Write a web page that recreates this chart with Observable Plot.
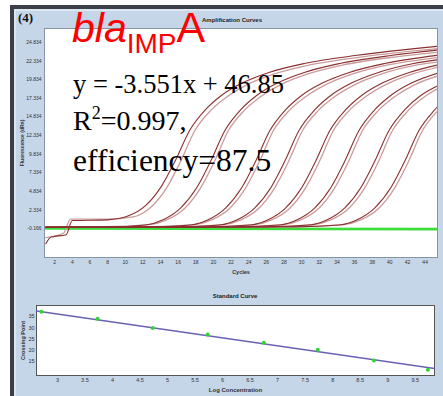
<!DOCTYPE html>
<html><head><meta charset="utf-8">
<script src="https://cdn.jsdelivr.net/npm/d3@7"></script>
<script src="https://cdn.jsdelivr.net/npm/@observablehq/plot@0.6"></script>
<style>
body{margin:0;background:#fff;}
#wrap{position:relative;width:443px;height:396px;overflow:hidden;background:#fff;font-family:"Liberation Sans",Arial,sans-serif;}
.abs{position:absolute;}
</style></head><body>
<div id="wrap">
 <div class="abs" style="left:10px;top:5px;width:433px;height:391px;background:#3b3f48"></div>
 <div class="abs" style="left:14px;top:9px;width:429px;height:387px;background:#dde6ef"></div>
 <div class="abs" style="left:16px;top:11px;width:427px;height:385px;background:#c5d6e8"></div>
 <div id="top" class="abs" style="left:0;top:0"></div>
 <div id="bot" class="abs" style="left:0;top:280px"></div>
 <svg class="abs" style="left:0;top:0" width="443" height="396">
  <text x="18" y="22" font-family="Liberation Serif, Times New Roman, serif" font-weight="bold" font-size="13" fill="#111">(4)</text>
  <text x="232" y="22" text-anchor="middle" font-family="Liberation Sans, Arial, sans-serif" font-weight="bold" font-size="6" fill="#222">Amplification Curves</text>
  <text x="235" y="298" text-anchor="middle" font-family="Liberation Sans, Arial, sans-serif" font-weight="bold" font-size="6" fill="#222">Standard Curve</text>
  <text x="72" y="42" font-family="Liberation Sans, Arial, sans-serif" fill="#ff0000"><tspan font-style="italic" font-size="41">bla</tspan><tspan font-size="28" dy="11">IMP</tspan><tspan font-size="43" dy="-11">A</tspan></text>
  <g font-family="Liberation Serif, Times New Roman, serif" fill="#000">
   <text x="73" y="93" font-size="26.5">y = -3.551x + 46.85</text>
   <text x="73" y="130" font-size="28">R<tspan font-size="18" dy="-11">2</tspan><tspan dy="11">=0.997,</tspan></text>
   <text x="73" y="171" font-size="31.5">efficiency=87.5</text>
  </g>
 </svg>
</div>
<script>
// ---- Amplification curves: [cycle, fluorescence] ----
const cycleTicks = d3.range(2, 46, 2);
const fluorTicks = [-0.166, 2.334, 4.834, 7.334, 9.834, 12.334, 14.834, 17.334, 19.834, 22.334, 24.834];

const g1a = [[1,-2.2],[1.6,-1.3],[3.3,-1.0],[4.0,0.9],[8,1.0],[10.3,1.5],[12.3,2.9],[14.1,5.5],[15.7,9.0],[17.3,13.0],[19.1,15.8],[20.9,17.7],[23.3,19.4],[26.3,20.8],[30.3,22.0],[36.3,23.1],[45.4,24.3]];
const g1b = [[1,-1.4],[3.0,-0.8],[3.8,1.1],[8,1.1],[10.9,1.4],[12.9,2.7],[14.7,5.3],[16.3,8.9],[17.9,13.0],[19.7,15.7],[21.5,17.5],[23.9,19.2],[26.9,20.6],[30.9,21.8],[36.9,22.9],[45.4,24.0]];
const g2a = [[1,0],[7.3,0.0],[12.3,0.3],[14.3,1.0],[16.3,2.6],[18.1,5.3],[19.7,8.9],[21.3,13.0],[23.1,15.8],[24.9,17.7],[27.3,19.4],[30.3,20.8],[34.3,22.0],[40.3,23.1],[45.4,23.8]];
const g2b = [[1,0.1],[7.7,0.1],[12.7,0.35],[14.7,1.0],[16.7,2.5],[18.5,5.2],[20.1,8.8],[21.7,13.0],[23.5,15.7],[25.3,17.5],[27.7,19.2],[30.7,20.6],[34.7,21.8],[40.7,22.9],[45.4,23.5]];
const g3a = [[1,0],[12.4,0.05],[17.4,0.3],[19.4,1.0],[21.4,2.6],[23.2,5.3],[24.8,8.9],[26.4,13.0],[28.2,15.8],[30.0,17.7],[32.4,19.4],[35.4,20.8],[39.4,22.0],[45.4,23.1]];
const g3b = [[1,0.1],[12.8,0.1],[17.8,0.35],[19.8,1.0],[21.8,2.5],[23.6,5.2],[25.2,8.8],[26.8,13.0],[28.6,15.7],[30.4,17.5],[32.8,19.2],[35.8,20.6],[39.8,21.8],[45.4,22.8]];
const g4a = [[1,0],[15.7,0.05],[20.7,0.3],[22.7,1.0],[24.7,2.6],[26.5,5.3],[28.1,8.9],[29.7,13.0],[31.5,15.8],[33.3,17.7],[35.7,19.4],[38.7,20.8],[42.7,22.0],[45.4,22.5]];
const g4b = [[1,0.1],[16.1,0.1],[21.1,0.35],[23.1,1.0],[25.1,2.5],[26.9,5.2],[28.5,8.8],[30.1,13.0],[31.9,15.7],[33.7,17.5],[36.1,19.2],[39.1,20.6],[43.1,21.8],[45.4,22.2]];
const g5a = [[1,0],[19.2,0.05],[24.2,0.3],[26.2,1.0],[28.2,2.6],[30.0,5.3],[31.6,8.9],[33.2,13.0],[35.0,15.8],[36.8,17.7],[39.2,19.4],[42.2,20.8],[45.4,21.8]];
const g5b = [[1,0.1],[19.6,0.1],[24.6,0.35],[26.6,1.0],[28.6,2.5],[30.4,5.2],[32.0,8.8],[33.6,13.0],[35.4,15.7],[37.2,17.5],[39.6,19.2],[42.6,20.6],[45.4,21.5]];
const g6a = [[1,0],[22.5,0.05],[27.5,0.3],[29.5,1.0],[31.5,2.6],[33.3,5.3],[34.9,8.9],[36.5,13.0],[38.3,15.8],[40.1,17.7],[42.5,19.4],[45.4,20.7]];
const g6b = [[1,0.1],[22.9,0.1],[27.9,0.35],[29.9,1.0],[31.9,2.5],[33.7,5.2],[35.3,8.8],[36.9,13.0],[38.7,15.7],[40.5,17.5],[42.9,19.2],[45.4,20.3]];
const g7a = [[1,0],[25.9,0.05],[30.9,0.3],[32.9,1.0],[34.9,2.6],[36.7,5.3],[38.3,8.9],[39.9,13.0],[41.7,15.8],[43.5,17.7],[45.4,19.0]];
const g7b = [[1,0.1],[26.3,0.1],[31.3,0.35],[33.3,1.0],[35.3,2.5],[37.1,5.2],[38.7,8.8],[40.3,13.0],[42.1,15.7],[43.9,17.5],[45.4,18.6]];
const g8a = [[1,0],[29.3,0.05],[34.3,0.3],[36.3,1.0],[38.3,2.6],[40.1,5.3],[41.7,8.9],[43.3,13.0],[45.1,15.8],[45.4,16.2]];
const g8b = [[1,0.1],[29.7,0.1],[34.7,0.35],[36.7,1.0],[38.7,2.5],[40.5,5.2],[42.1,8.8],[43.7,13.0],[45.4,15.6]];
const ntc1 = [[1,-0.05],[20,-0.15],[45.4,-0.2]];
const ntc2 = [[1,-0.2],[45.4,-0.3]];

const darkCurves = [g1a,g2a,g3a,g4a,g5a,g6a,g7a,g8a];
const lightCurves = [g1b,g2b,g3b,g4b,g5b,g6b,g7b,g8b];
const greenCurves = [ntc1, ntc2];
const rows = (list) => list.flatMap((c, i) => c.map(([x, y]) => ({x, y, id: i})));

// ---- Standard curve ----
const logConc = [2.71, 3.73, 4.73, 5.73, 6.75, 7.73, 8.75, 9.73];
const crossingPoint = [37.2, 34.1, 30.0, 27.0, 23.4, 20.3, 15.4, 11.3];
const fitSlope = -3.551, fitIntercept = 46.85, fitRange = [2.62, 9.85];
const logTicks = d3.range(3, 10, 0.5);
const cpTicks = [15, 20, 25, 30, 35];

const sans = "Liberation Sans, Arial, sans-serif";

const topChart = Plot.plot({
  width: 443, height: 280,
  marginTop: 28, marginLeft: 44, marginRight: 6, marginBottom: 23,
  style: {background: "transparent", fontFamily: sans, color: "#333", overflow: "visible"},
  x: {domain: [0.85, 45.4]},
  y: {domain: [-4.06, 26.7]},
  marks: [
    Plot.frame({fill: "white", stroke: "#8794a3"}),
    Plot.line(rows(greenCurves), {x: "x", y: "y", z: "id", stroke: "#3ddc3d", strokeWidth: 1.8, clip: true}),
    Plot.line(rows(lightCurves), {x: "x", y: "y", z: "id", stroke: "#c99c9c", strokeWidth: 1.3, curve: "monotone-x", clip: true}),
    Plot.line(rows(darkCurves), {x: "x", y: "y", z: "id", stroke: "#8b2f2f", strokeWidth: 1.1, curve: "monotone-x", clip: true}),
    Plot.axisX({ticks: cycleTicks, tickSize: 0, tickPadding: 3, fontSize: 5, label: null}),
    Plot.axisX({ticks: [], label: "Cycles", labelAnchor: "center", labelArrow: "none", labelOffset: 16, fontSize: 5.5, fontWeight: "bold"}),
    Plot.axisY({ticks: fluorTicks, tickFormat: d => d.toFixed(3), tickSize: 0, tickPadding: 3, fontSize: 5, label: null}),
    Plot.axisY({ticks: [], label: "Fluorescence (dRn)", labelAnchor: "center", labelArrow: "none", labelOffset: 24, fontSize: 5, fontWeight: "bold"})
  ]
});
document.getElementById("top").append(topChart);

const fitLine = fitRange.map(x => ({x, y: fitSlope * x + fitIntercept}));
const stdPts = logConc.map((x, i) => ({x, y: crossingPoint[i]}));

const botChart = Plot.plot({
  width: 443, height: 116,
  marginTop: 25, marginLeft: 36, marginRight: 9, marginBottom: 21,
  style: {background: "transparent", fontFamily: sans, color: "#333", overflow: "visible"},
  x: {domain: [2.62, 9.85]},
  y: {domain: [8.75, 40]},
  marks: [
    Plot.frame({fill: "white", stroke: "#555"}),
    Plot.line(fitLine, {x: "x", y: "y", stroke: "#6a62b4", strokeWidth: 1.4}),
    Plot.dot(stdPts, {x: "x", y: "y", r: 2, fill: "#2fd62f"}),
    Plot.axisX({ticks: logTicks, tickFormat: d => String(d), tickSize: 0, tickPadding: 3, fontSize: 5.5, label: null}),
    Plot.axisX({ticks: [], label: "Log Concentration", labelAnchor: "center", labelArrow: "none", labelOffset: 16, fontSize: 6, fontWeight: "bold"}),
    Plot.axisY({ticks: cpTicks, tickSize: 0, tickPadding: 2, fontSize: 5.5, label: null}),
    Plot.axisY({ticks: [], label: "Crossing Point", labelAnchor: "center", labelArrow: "none", labelOffset: 15, fontSize: 5.5, fontWeight: "bold"})
  ]
});
document.getElementById("bot").append(botChart);
</script>
</body></html>
